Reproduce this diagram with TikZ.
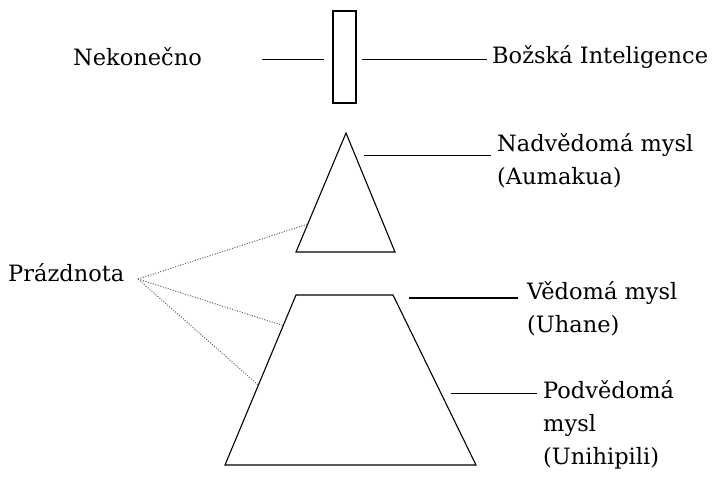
\documentclass[tikz,border=0pt]{standalone}
\usepackage{fontspec}
\setmainfont{DejaVu Serif}
\usepackage{tikz}
\usetikzlibrary{calc}

\begin{document}
\begin{tikzpicture}[
    x = 1pt, y = -1pt,
    term/.style =
    { anchor    = base west,
      inner sep = 0pt,
      font      = \fontsize{22.5}{33}\selectfont },
    stack/.style =
    { term,
      anchor = north west,
      align  = left },
    outline/.style =
    { line width = 1.1pt,
      line join  = miter },
    pointer/.style =
    { line width = 1pt },
    void/.style =
    { line width   = 1pt,
      dash pattern = on 1pt off 1.6pt,
      gray!75!black }
  ]
  \useasboundingbox (0,0) rectangle (714,477);

  % shapes
  \node[draw, outline, minimum width = 23, minimum height = 92, inner sep = 0pt]
    (pillar) at (344.5,57) {};
  \coordinate (top) at (346,133);
  \coordinate (tl)  at (296,252);
  \coordinate (tr)  at (395,252);
  \draw[outline] (top) -- (tr) -- (tl) -- cycle;
  \coordinate (ul) at (296,295);
  \coordinate (ur) at (393,295);
  \coordinate (ll) at (225,465);
  \coordinate (lr) at (476,465);
  \draw[outline] (ul) -- (ur) -- (lr) -- (ll) -- cycle;

  % texts
  \node[term]  (nek)  at (73,65)   {Nekonečno};
  \node[term]  (god)  at (492,63)  {Božská Inteligence};
  \node[stack] (nad)  at (497,133) {Nadvědomá mysl\\(Aumakua)};
  \node[stack] (ved)  at (527,281) {Vědomá mysl\\(Uhane)};
  \node[stack] (pod)  at (543,380) {Podvědomá\\mysl\\(Unihipili)};
  \node[term]  (void) at (8,281)   {Prázdnota};

  % pointers
  \coordinate (nekA) at ([shift={(-70,2)}]pillar.west);
  \coordinate (nekB) at ([shift={(-8,2)}]pillar.west);
  \coordinate (godA) at ([shift={(5,2)}]pillar.east);
  \coordinate (nadA) at (364,155);
  \coordinate (vedA) at (409,298);
  \coordinate (podA) at (451,393);
  \draw[pointer] (nekA) -- (nekB);
  \draw[pointer, shorten >= 5pt] (godA) -- (godA -| god.west);
  \draw[pointer, shorten >= 6pt] (nadA) -- (nadA -| nad.west);
  \draw[pointer, line width = 1.5pt, shorten >= 9pt] (vedA) -- (vedA -| ved.west);
  \draw[pointer, shorten >= 6pt] (podA) -- (podA -| pod.west);

  \coordinate (v0) at (138,279);
  \draw[void] (v0) -- ($(top)!0.765!(tl)$);
  \draw[void] (v0) -- ($(ul)!0.18!(ll)$);
  \draw[void] (v0) -- ($(ul)!0.53!(ll)$);
\end{tikzpicture}
\end{document}
